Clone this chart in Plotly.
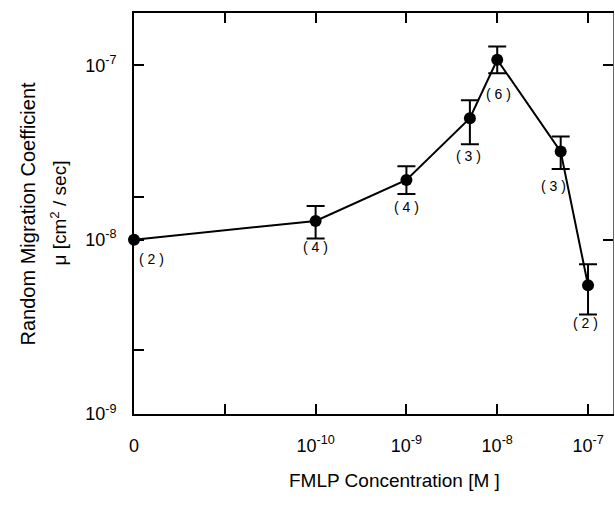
import math
import plotly.graph_objects as go

# Data
conc = [1e-12, 1e-10, 1e-9, 5e-9, 1e-8, 5e-8, 1e-7]      # "0" plotted at 1e-12
mu = [1.0e-8, 1.28e-8, 2.2e-8, 4.97e-8, 1.076e-7, 3.2e-8, 5.48e-9]
mu_upper = [1.0e-8, 1.56e-8, 2.64e-8, 6.3e-8, 1.28e-7, 3.9e-8, 7.23e-9]
mu_lower = [1.0e-8, 1.016e-8, 1.83e-8, 3.52e-8, 9.0e-8, 2.54e-8, 3.72e-9]
n_labels = ["( 2 )", "( 4 )", "( 4 )", "( 3 )", "( 6 )", "( 3 )", "( 2 )"]

x_tickvals = [1e-12, 1e-11, 1e-10, 1e-9, 1e-8, 1e-7]
x_ticktext = ["0", "", "10<sup>-10</sup>", "10<sup>-9</sup>", "10<sup>-8</sup>", "10<sup>-7</sup>"]
y_tickvals = [1e-9, 2.33e-9, 1e-8, 1.75e-8, 1e-7]
y_ticktext = ["10<sup>-9</sup>", "", "10<sup>-8</sup>", "", "10<sup>-7</sup>"]

# label pixel offsets (style)
label_shift = [(17, -19), (0, -26), (0, -27), (-1, -38), (1, -34), (-7, -34), (-3, -38)]

FONT = "Liberation Sans, Arial, Helvetica, sans-serif"

err_plus = [u - m for u, m in zip(mu_upper, mu)]
err_minus = [m - l for m, l in zip(mu, mu_lower)]

fig = go.Figure()
fig.add_trace(go.Scatter(
    x=conc, y=mu, mode="lines+markers",
    line=dict(color="black", width=2),
    marker=dict(color="black", size=12),
    error_y=dict(type="data", symmetric=False, array=err_plus, arrayminus=err_minus,
                 color="black", thickness=2, width=9),
    cliponaxis=False, showlegend=False,
))
# invisible trace for secondary (right/top) frame axes
fig.add_trace(go.Scatter(x=[1e-11], y=[1e-8], xaxis="x2", yaxis="y2",
                         mode="markers", marker=dict(opacity=0), showlegend=False,
                         hoverinfo="skip"))

for xv, yv, t, (dx, dy) in zip(conc, mu, n_labels, label_shift):
    fig.add_annotation(x=math.log10(xv), y=math.log10(yv), xref="x", yref="y", text=t,
                       showarrow=False, xshift=dx, yshift=dy,
                       font=dict(family=FONT, size=14, color="black"))

xr = [-12, -6.725]
yr = [-9, -6.7]

L, R, T, B = 134, 2, 13, 92
W, H = 615, 506
plot_w = W - L - R
plot_h = H - T - B

fig.update_layout(
    width=W, height=H,
    margin=dict(l=L, r=R, t=T, b=B),
    paper_bgcolor="white", plot_bgcolor="white",
    font=dict(family=FONT, size=18, color="black"),
    xaxis=dict(type="log", range=xr, tickmode="array", tickvals=x_tickvals, ticktext=x_ticktext,
               ticks="inside", ticklen=10, tickwidth=2, tickcolor="black",
               showline=True, linecolor="black", linewidth=2, showgrid=False, zeroline=False,
               ticklabelstandoff=14, tickfont=dict(size=18), automargin=False),
    yaxis=dict(type="log", range=yr, tickmode="array", tickvals=y_tickvals, ticktext=y_ticktext,
               ticks="inside", ticklen=10, tickwidth=2, tickcolor="black",
               showline=True, linecolor="black", linewidth=2, showgrid=False, zeroline=False,
               ticklabelstandoff=12, tickfont=dict(size=18), automargin=False),
    xaxis2=dict(type="log", range=xr, overlaying="x", side="top", anchor="y2",
                tickmode="array", tickvals=[1e-11, 1e-10, 1e-9, 1e-8, 1e-7],
                ticks="inside", ticklen=10, tickwidth=2, tickcolor="black",
                showticklabels=False, showline=True, linecolor="black", linewidth=2,
                showgrid=False, zeroline=False, automargin=False),
    yaxis2=dict(type="log", range=yr, overlaying="y", side="right", anchor="x2",
                tickmode="array", tickvals=[1e-8, 1e-7],
                ticks="inside", ticklen=10, tickwidth=2, tickcolor="black",
                showticklabels=False, showline=True, linecolor="#666", linewidth=1,
                showgrid=False, zeroline=False, automargin=False),
)

fig.add_annotation(text="Random Migration Coefficient", xref="paper", yref="paper",
                   x=(27 - L) / plot_w, y=0.5, xanchor="center", yanchor="middle", textangle=-90,
                   showarrow=False, font=dict(family=FONT, size=20, color="black"))
fig.add_annotation(text="μ [cm<sup>2</sup> / sec]", xref="paper", yref="paper",
                   x=(58 - L) / plot_w, y=0.5, xanchor="center", yanchor="middle", textangle=-90,
                   showarrow=False, font=dict(family=FONT, size=19, color="black"))
fig.add_annotation(text="FMLP Concentration [M ]", xref="paper", yref="paper",
                   x=(394 - L) / plot_w, y=-(480 - (H - B)) / plot_h,
                   xanchor="center", yanchor="middle",
                   showarrow=False, font=dict(family=FONT, size=19, color="black"))

fig.write_html("out.html", config={"displayModeBar": False},
               post_script="document.body.style.margin='0';")
